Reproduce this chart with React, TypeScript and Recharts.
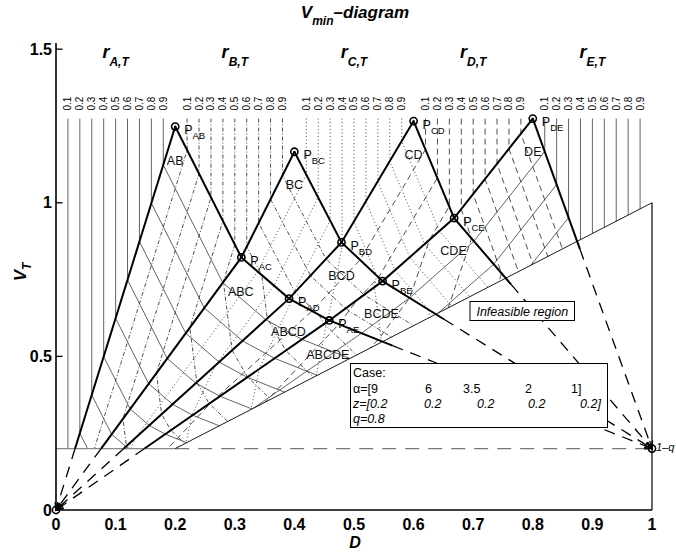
import React from 'react'
import { ComposedChart, Line, Scatter, XAxis, YAxis, ReferenceLine } from 'recharts'

const FONT = '"Liberation Sans", Arial, Helvetica, sans-serif'

// case data
const components = ['A', 'B', 'C', 'D', 'E']
const alpha = [9, 6, 3.5, 2, 1]
const zFeed = [0.2, 0.2, 0.2, 0.2, 0.2]
const qFeed = 0.8
const levels = ['0.1', '0.2', '0.3', '0.4', '0.5', '0.6', '0.7', '0.8', '0.9']

const xTicks = [0, 0.1, 0.2, 0.3, 0.4, 0.5, 0.6, 0.7, 0.8, 0.9, 1]
const yTicks = [0, 0.5, 1, 1.5]

// preferred split points [name, D, V]
const peaks: [string, number, number][] = [
  ['AB', 0.2, 1.248], ['AC', 0.311, 0.822], ['AD', 0.391, 0.688], ['AE', 0.4585, 0.617],
  ['BC', 0.4, 1.166], ['BD', 0.479, 0.871], ['BE', 0.548, 0.745],
  ['CD', 0.6, 1.266], ['CE', 0.668, 0.95], ['DE', 0.8, 1.274],
]
const origin: [number, number] = [0, 0]
const feedPoint: [number, number] = [1, 0.2]

// region names [text, D, V]
const regions: [string, number, number][] = [
  ['AB', 0.2, 1.137], ['BC', 0.4, 1.058], ['CD', 0.6, 1.157], ['DE', 0.8, 1.166],
  ['ABC', 0.31, 0.711], ['BCD', 0.479, 0.762], ['CDE', 0.667, 0.843],
  ['ABCD', 0.39, 0.58], ['BCDE', 0.546, 0.638], ['ABCDE', 0.456, 0.505],
]

// thick boundaries
const thickLines: number[][][] = [
  [[0.032, 0.2], [0.2, 1.248]],
  [[0.0757, 0.2], [0.311, 0.822], [0.4, 1.166]],
  [[0.1137, 0.2], [0.391, 0.688], [0.479, 0.871], [0.6, 1.266]],
  [[0.1486, 0.2], [0.4585, 0.617], [0.548, 0.745], [0.668, 0.95], [0.8, 1.274]],
  [[0.2, 1.248], [0.311, 0.822], [0.391, 0.688], [0.4585, 0.617], [0.5648, 0.5348]],
  [[0.4, 1.166], [0.479, 0.871], [0.548, 0.745], [0.6509, 0.6209]],
  [[0.6, 1.266], [0.668, 0.95], [0.7638, 0.7337]],
  [[0.8, 1.274], [0.8791, 0.8491]],
]
const dashedToOrigin: number[][][] = [
  [[0.032, 0.2], [0, 0]],
  [[0.0757, 0.2], [0, 0]],
  [[0.1137, 0.2], [0, 0]],
  [[0.1486, 0.2], [0, 0]],
]
const dashedToFeed: number[][][] = [
  [[0.5648, 0.5348], [1, 0.2]],
  [[0.6509, 0.6209], [1, 0.2]],
  [[0.7638, 0.7337], [1, 0.2]],
  [[0.8791, 0.8491], [1, 0.2]],
]
const bottomSolid = [[0, 0.2], [0.2, 0.2]]
const bottomDashed = [[0.2, 0.2], [1, 0.2]]
const diagonal = [[0.2, 0.2], [1, 1]]
const rightEdge = [[1, 0], [1, 1]]

// recovery contours r_X,T = 0.1 .. 0.9
const rA: number[][][] = [
  [[0.02, 1.274], [0.02, 0.2]],
  [[0.04, 1.274], [0.04, 0.2496], [0.0529, 0.2]],
  [[0.06, 1.274], [0.06, 0.3744], [0.0933, 0.2466], [0.1173, 0.2064], [0.1234, 0.2]],
  [[0.08, 1.274], [0.08, 0.4992], [0.1244, 0.3288], [0.1564, 0.2752], [0.1834, 0.2468], [0.2192, 0.2192]],
  [[0.1, 1.274], [0.1, 0.624], [0.1555, 0.411], [0.1955, 0.344], [0.2293, 0.3085], [0.274, 0.274]],
  [[0.12, 1.274], [0.12, 0.7488], [0.1866, 0.4932], [0.2346, 0.4128], [0.2751, 0.3702], [0.3288, 0.3288]],
  [[0.14, 1.274], [0.14, 0.8736], [0.2177, 0.5754], [0.2737, 0.4816], [0.321, 0.4319], [0.3836, 0.3836]],
  [[0.16, 1.274], [0.16, 0.9984], [0.2488, 0.6576], [0.3128, 0.5504], [0.3668, 0.4936], [0.4384, 0.4384]],
  [[0.18, 1.274], [0.18, 1.1232], [0.2799, 0.7398], [0.3519, 0.6192], [0.4127, 0.5553], [0.4932, 0.4932]],
]
const rB: number[][][] = [
  [[0.22, 1.274], [0.22, 1.1711], [0.0645, 0.2]],
  [[0.24, 1.274], [0.24, 1.0942], [0.1123, 0.2969], [0.1182, 0.2079], [0.1205, 0.2]],
  [[0.26, 1.274], [0.26, 1.0172], [0.1685, 0.4453], [0.1772, 0.3119], [0.1928, 0.2595], [0.2161, 0.2161]],
  [[0.28, 1.274], [0.28, 0.9403], [0.2246, 0.5937], [0.2363, 0.4158], [0.2571, 0.346], [0.2882, 0.2882]],
  [[0.3, 1.274], [0.3, 0.8634], [0.2808, 0.7422], [0.2954, 0.5198], [0.3214, 0.4325], [0.3602, 0.3602]],
  [[0.32, 1.274], [0.32, 0.8568], [0.3452, 0.7647], [0.3545, 0.6238], [0.3856, 0.5189], [0.4322, 0.4322]],
  [[0.34, 1.274], [0.34, 0.9341], [0.4009, 0.7087], [0.441, 0.6354], [0.4499, 0.6054], [0.5043, 0.5043]],
  [[0.36, 1.274], [0.36, 1.0114], [0.427, 0.7628], [0.4855, 0.6557], [0.5627, 0.5627]],
  [[0.38, 1.274], [0.38, 1.0887], [0.453, 0.8169], [0.5168, 0.7003], [0.6, 0.6]],
]
const rC: number[][][] = [
  [[0.42, 1.274], [0.42, 1.0917], [0.3384, 0.7761], [0.1339, 0.2356], [0.1252, 0.2]],
  [[0.44, 1.274], [0.44, 1.0174], [0.3658, 0.7302], [0.2678, 0.4712], [0.2273, 0.3058], [0.2183, 0.2183]],
  [[0.46, 1.274], [0.46, 0.9431], [0.3977, 0.7019], [0.3958, 0.6829], [0.3409, 0.4587], [0.3274, 0.3274]],
  [[0.48, 1.274], [0.48, 0.8729], [0.481, 0.868], [0.4564, 0.6192], [0.4545, 0.6116], [0.4366, 0.4366]],
  [[0.5, 1.274], [0.5, 0.9384], [0.5379, 0.7634], [0.5343, 0.7254], [0.5461, 0.5495], [0.5457, 0.5457]],
  [[0.52, 1.274], [0.52, 1.0039], [0.5686, 0.7801], [0.6253, 0.6518], [0.627, 0.627]],
  [[0.54, 1.274], [0.54, 1.0695], [0.5936, 0.8226], [0.6638, 0.6638]],
  [[0.56, 1.274], [0.56, 1.1349], [0.6186, 0.8652], [0.6941, 0.6941]],
  [[0.58, 1.274], [0.58, 1.2005], [0.6436, 0.9077], [0.7245, 0.7245]],
]
const rD: number[][][] = [
  [[0.62, 1.274], [0.62, 1.1737], [0.5103, 0.8142], [0.4294, 0.6476], [0.2611, 0.3514], [0.1875, 0.2]],
  [[0.64, 1.274], [0.64, 1.0813], [0.5413, 0.7573], [0.5059, 0.6848], [0.4745, 0.6047], [0.3513, 0.3513]],
  [[0.66, 1.274], [0.66, 0.989], [0.6264, 0.8784], [0.5935, 0.6902], [0.5402, 0.5541], [0.527, 0.527]],
  [[0.68, 1.274], [0.68, 0.9785], [0.6972, 0.8841], [0.6582, 0.6582]],
  [[0.7, 1.274], [0.7, 1.0277], [0.7476, 0.7701], [0.7429, 0.7429]],
  [[0.72, 1.274], [0.72, 1.077], [0.7759, 0.7759]],
  [[0.74, 1.274], [0.74, 1.1262], [0.8005, 0.8005]],
  [[0.76, 1.274], [0.76, 1.1755], [0.8252, 0.8252]],
  [[0.78, 1.274], [0.78, 1.2247], [0.8498, 0.8498]],
]
const rE: number[][][] = [
  [[0.82, 1.274], [0.82, 1.1666], [0.7012, 0.875], [0.5932, 0.6905], [0.5126, 0.5753], [0.3313, 0.3313]],
  [[0.84, 1.274], [0.84, 1.0592], [0.7344, 0.8], [0.6418, 0.6418]],
  [[0.86, 1.274], [0.86, 0.9518], [0.797, 0.797]],
  [[0.88, 1.274], [0.88, 0.88]],
  [[0.9, 1.274], [0.9, 0.9]],
  [[0.92, 1.274], [0.92, 0.92]],
  [[0.94, 1.274], [0.94, 0.94]],
  [[0.96, 1.274], [0.96, 0.96]],
  [[0.98, 1.274], [0.98, 0.98]],
]
const contourGroups = [rA, rB, rC, rD, rE]

const contourStyles = [
  { stroke: '#3c3c3c', width: 0.8, dash: undefined as string | undefined },
  { stroke: '#222', width: 0.8, dash: '4 2 1 2' },
  { stroke: '#333', width: 0.9, dash: '1 2.5' },
  { stroke: '#222', width: 0.8, dash: '6 4' },
  { stroke: '#3c3c3c', width: 0.8, dash: undefined as string | undefined },
]

const toPts = (arr: number[][]) => arr.map(([d, v]) => ({ d, v }))

const PX_D = 596
const PX_V = 307.2

function arrowDot(seg: number[][]) {
  return (props: any) => {
    const { cx, cy, index } = props
    if (index !== seg.length - 1 || cx == null) return <g key={`n${index}`} />
    const dx = (seg[1][0] - seg[0][0]) * PX_D
    const dy = -(seg[1][1] - seg[0][1]) * PX_V
    const len = Math.hypot(dx, dy)
    const ux = dx / len
    const uy = dy / len
    const a = 0.42
    const L = 8
    const c = Math.cos(a)
    const s = Math.sin(a)
    const p1x = cx - L * (ux * c - uy * s)
    const p1y = cy - L * (uy * c + ux * s)
    const p2x = cx - L * (ux * c + uy * s)
    const p2y = cy - L * (uy * c - ux * s)
    return (
      <path
        key={`a${index}`}
        d={`M${p1x},${p1y}L${cx},${cy}L${p2x},${p2y}`}
        fill="none"
        stroke="#000"
        strokeWidth={1.3}
      />
    )
  }
}

function PeakShape(props: any) {
  const { cx, cy, payload } = props
  return (
    <g>
      <circle cx={cx} cy={cy} r={3.6} fill="none" stroke="#000" strokeWidth={1.6} />
      <circle cx={cx} cy={cy} r={1} fill="#000" />
      {payload.name ? (
        <text x={cx + 9} y={cy + 7.5} fontSize={12.5} fontFamily={FONT} fill="#000">
          P
          <tspan fontSize={9.5} dy={5}>
            {payload.name}
          </tspan>
        </text>
      ) : null}
      {payload.tail ? (
        <text x={cx + 4} y={cy + 2} fontSize={11} fontStyle="italic" fontFamily={FONT} fill="#000">
          {payload.tail}
        </text>
      ) : null}
    </g>
  )
}

function RegionShape(props: any) {
  const { cx, cy, payload } = props
  return (
    <text x={cx} y={cy + 4.5} textAnchor="middle" fontSize={12.5} fontFamily={FONT} fill="#111">
      {payload.name}
    </text>
  )
}

function LevelShape(props: any) {
  const { cx, cy, payload } = props
  const x = cx + 3.5
  const y = cy - 8
  return (
    <text x={x} y={y} transform={`rotate(-90 ${x} ${y})`} fontSize={10} fontFamily={FONT} fill="#000">
      {payload.name}
    </text>
  )
}

function GroupShape(props: any) {
  const { cx, cy, payload } = props
  return (
    <text x={cx} y={cy} textAnchor="middle" fontFamily={FONT} fontWeight="bold" fontStyle="italic" fill="#000">
      <tspan fontSize={18}>r</tspan>
      <tspan fontSize={12} dy={8}>
        {payload.name},T
      </tspan>
    </text>
  )
}

const peakData = [
  ...peaks.map(([name, d, v]) => ({ d, v, name, tail: '' })),
  { d: origin[0], v: origin[1], name: '', tail: '' },
  { d: feedPoint[0], v: feedPoint[1], name: '', tail: `1–q` },
]
const regionData = regions.map(([name, d, v]) => ({ d, v, name }))
const levelData = contourGroups.flatMap((g) => g.map((line, i) => ({ d: line[0][0], v: line[0][1], name: levels[i] })))
const groupData = contourGroups.map((g, i) => ({ d: g[4][0][0], v: 1.471, name: components[i] }))

const axisTick = { fontSize: 16, fontWeight: 'bold', fill: '#000', fontFamily: FONT }

export default function App() {
  const fmt = (n: number) => String(n)
  return (
    <div style={{ position: 'absolute', left: 0, top: 0, width: 676, height: 552, background: '#fff' }}>
      <ComposedChart width={676} height={552} margin={{ top: 43, right: 24, bottom: 12, left: 16 }}>
        <XAxis
          type="number"
          dataKey="d"
          domain={[0, 1]}
          ticks={xTicks}
          interval={0}
          tickFormatter={fmt}
          tick={axisTick}
          tickLine={false}
          tickSize={0}
          tickMargin={9}
          axisLine={{ stroke: '#000', strokeWidth: 1.6 }}
          height={30}
        />
        <YAxis
          type="number"
          dataKey="v"
          domain={[0, 1.52]}
          ticks={yTicks}
          interval={0}
          tickFormatter={fmt}
          tick={axisTick}
          tickLine={false}
          tickSize={0}
          tickMargin={4}
          axisLine={{ stroke: '#000', strokeWidth: 1.6 }}
          width={40}
        />
        {yTicks.slice(1).map((t) => (
          <ReferenceLine key={`yt${t}`} segment={[{ x: 0, y: t }, { x: 0.011, y: t }]} stroke="#000" strokeWidth={1.3} />
        ))}

        {contourGroups.map((g, gi) =>
          g.map((line, li) => (
            <Line
              key={`c${gi}-${li}`}
              data={toPts(line)}
              dataKey="v"
              type="linear"
              dot={false}
              activeDot={false}
              stroke={contourStyles[gi].stroke}
              strokeWidth={contourStyles[gi].width}
              strokeDasharray={contourStyles[gi].dash}
              isAnimationActive={false}
            />
          ))
        )}

        <Line data={toPts(bottomSolid)} dataKey="v" dot={false} activeDot={false} stroke="#888" strokeWidth={1.3} isAnimationActive={false} />
        <Line data={toPts(bottomDashed)} dataKey="v" dot={false} activeDot={false} stroke="#777" strokeWidth={1.3} strokeDasharray="14 9" isAnimationActive={false} />
        <Line data={toPts(diagonal)} dataKey="v" dot={false} activeDot={false} stroke="#000" strokeWidth={0.9} isAnimationActive={false} />
        <Line data={toPts(rightEdge)} dataKey="v" dot={false} activeDot={false} stroke="#000" strokeWidth={1.2} isAnimationActive={false} />

        {[...dashedToOrigin, ...dashedToFeed].map((seg, i) => (
          <Line
            key={`x${i}`}
            data={toPts(seg)}
            dataKey="v"
            type="linear"
            dot={arrowDot(seg)}
            activeDot={false}
            stroke="#000"
            strokeWidth={1.3}
            strokeDasharray="11 8"
            isAnimationActive={false}
          />
        ))}

        {thickLines.map((line, i) => (
          <Line
            key={`t${i}`}
            data={toPts(line)}
            dataKey="v"
            type="linear"
            dot={false}
            activeDot={false}
            stroke="#000"
            strokeWidth={2}
            isAnimationActive={false}
          />
        ))}

        <Scatter data={levelData} shape={LevelShape} isAnimationActive={false} />
        <Scatter data={groupData} shape={GroupShape} isAnimationActive={false} />
        <Scatter data={regionData} shape={RegionShape} isAnimationActive={false} />
        <Scatter data={peakData} shape={PeakShape} isAnimationActive={false} />
      </ComposedChart>

      <svg width={676} height={552} style={{ position: 'absolute', left: 0, top: 0, pointerEvents: 'none' }}>
        <text x={355} y={18} textAnchor="middle" fontFamily={FONT} fontWeight="bold" fontStyle="italic" fontSize={17}>
          V
          <tspan fontSize={12} dy={7}>
            min
          </tspan>
          <tspan dy={-7}>–diagram</tspan>
        </text>
        <text
          x={26}
          y={272}
          transform="rotate(-90 26 272)"
          textAnchor="middle"
          fontFamily={FONT}
          fontWeight="bold"
          fontStyle="italic"
          fontSize={17}
        >
          V
          <tspan fontSize={12} dy={5}>
            T
          </tspan>
        </text>
        <text x={355} y={548} textAnchor="middle" fontFamily={FONT} fontWeight="bold" fontStyle="italic" fontSize={16}>
          D
        </text>

        <rect x={470} y={301.5} width={104.5} height={19} fill="#fff" stroke="#000" strokeWidth={1} />
        <text x={522.3} y={315.5} textAnchor="middle" fontFamily={FONT} fontStyle="italic" fontSize={12.5}>
          Infeasible region
        </text>

        <rect x={350.5} y={363.5} width={257} height={64} fill="#fff" stroke="#000" strokeWidth={1} />
        <g fontFamily={FONT} fontSize={12.5} fill="#000">
          <text x={353} y={377}>Case:</text>
          <text x={353} y={393}>α=[{alpha[0]}</text>
          <text x={425} y={393}>{alpha[1]}</text>
          <text x={463} y={393}>{alpha[2]}</text>
          <text x={525} y={393}>{alpha[3]}</text>
          <text x={571} y={393}>{alpha[4]}]</text>
          <g fontStyle="italic">
            <text x={353} y={408}>z=[{zFeed[0]}</text>
            <text x={424} y={408}>{zFeed[1]}</text>
            <text x={477} y={408}>{zFeed[2]}</text>
            <text x={528} y={408}>{zFeed[3]}</text>
            <text x={580} y={408}>{zFeed[4]}]</text>
            <text x={353} y={423}>q={qFeed}</text>
          </g>
        </g>
      </svg>
    </div>
  )
}
